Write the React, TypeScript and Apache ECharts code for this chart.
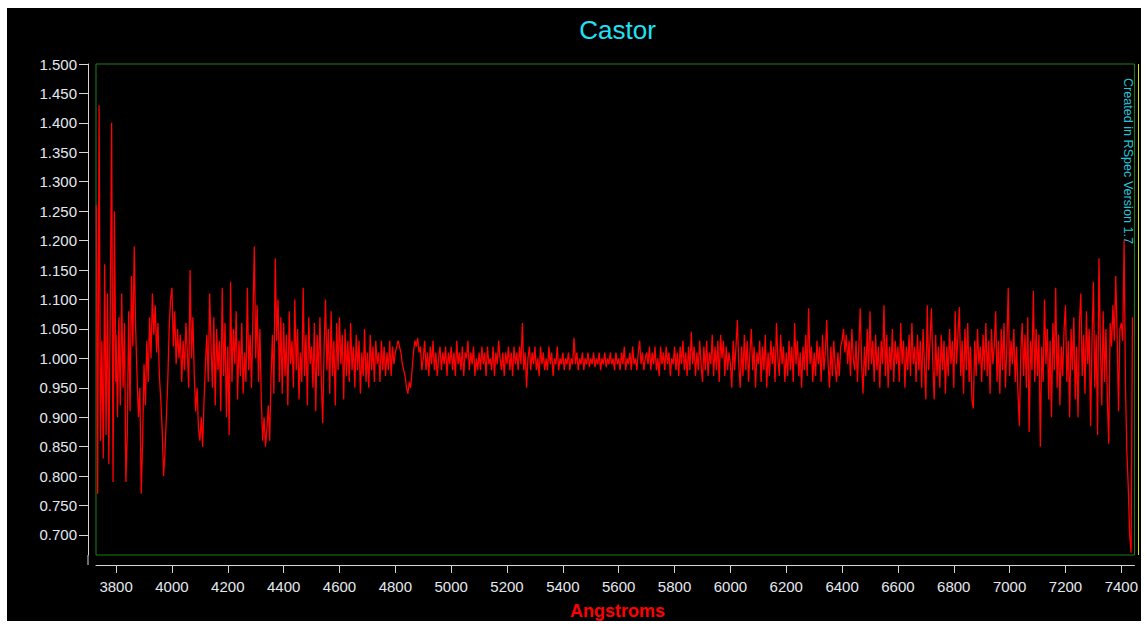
import React, { useEffect, useRef } from "react";
import * as echarts from "echarts";

const titleText = "Castor";
const xAxisName = "Angstroms";
const creditText = "Created in RSpec Version 1.7";

const xTicks = [3800, 4000, 4200, 4400, 4600, 4800, 5000, 5200, 5400, 5600, 5800, 6000, 6200, 6400, 6600, 6800, 7000, 7200, 7400];
const yTicks = [0.7, 0.75, 0.8, 0.85, 0.9, 0.95, 1.0, 1.05, 1.1, 1.15, 1.2, 1.25, 1.3, 1.35, 1.4, 1.45, 1.5];
const xMin = 3728;
const xMax = 7447;
const yMin = 0.666;
const yMax = 1.5;
const sampleStep = 5;

// flux, in blocks of 100 Å (first block starts at 3729 Å)
const fluxBlue: number[][] = [
  [1.26, 0.77, 1.43, 0.86, 1.03, 0.83, 1.16, 0.87, 1.11, 0.82, 1.08, 1.40, 0.79, 1.25, 0.96],
  [1.04, 0.90, 1.07, 0.92, 1.11, 0.95, 1.06, 0.79, 0.87, 1.08, 0.91, 1.14, 1.02, 1.19, 1.05, 0.97, 0.90, 0.95, 0.77, 0.86],
  [0.99, 0.92, 1.03, 0.96, 1.07, 1.00, 1.11, 1.04, 1.09, 1.01, 1.06, 0.97, 0.93, 0.88, 0.80, 0.84, 0.90, 0.96, 1.05, 1.10],
  [1.12, 1.02, 1.08, 0.99, 1.05, 1.00, 1.04, 0.96, 1.03, 0.98, 1.06, 1.01, 0.95, 1.15, 1.00, 1.07, 0.97, 0.91, 0.95, 0.88],
  [0.86, 0.90, 0.85, 0.93, 0.99, 1.04, 0.96, 1.11, 1.02, 0.95, 1.07, 0.92, 1.05, 0.98, 1.03, 0.91, 1.12, 0.97, 1.06, 0.90],
  [1.02, 0.87, 1.13, 0.96, 1.05, 0.99, 1.08, 0.93, 1.03, 0.97, 1.06, 0.94, 1.01, 0.96, 1.12, 0.98, 1.04, 0.95, 1.07, 1.19],
  [1.00, 1.09, 0.96, 1.05, 0.93, 0.86, 0.90, 0.85, 0.88, 0.92, 0.86, 0.97, 1.04, 0.94, 1.17, 1.03, 1.10, 0.96, 1.07, 0.94],
];

const fluxGreen: number[][] = [
  [1.06, 0.97, 1.04, 0.92, 1.08, 0.99, 1.03, 0.95, 1.10, 0.98, 1.05, 0.93, 1.01, 0.96, 1.12, 0.97, 1.04, 0.92, 1.07, 0.99],
  [1.02, 0.95, 1.06, 0.91, 1.04, 0.97, 1.07, 0.96, 0.89, 1.02, 1.10, 0.98, 1.05, 0.94, 1.08, 0.97, 1.03, 0.92, 1.06, 0.98],
  [1.07, 0.99, 1.04, 0.93, 1.05, 0.97, 1.03, 0.96, 1.06, 0.98, 1.02, 0.95, 1.04, 0.98, 1.03, 0.94, 1.01, 0.97, 1.05, 0.96],
  [1.01, 0.95, 1.04, 0.98, 1.02, 0.96, 1.03, 0.99, 1.01, 0.96, 1.03, 0.98, 1.02, 0.97, 1.01, 0.98, 1.03, 0.97, 1.02, 0.99],
  [1.01, 1.02, 1.03, 1.02, 1.01, 0.99, 0.98, 0.97, 0.95, 0.94, 0.96, 0.95, 0.98, 1.01, 1.03, 1.02, 1.035, 1.01, 1.02, 0.98],
  [1.00, 1.03, 0.98, 1.01, 0.97, 1.02, 0.99, 1.03, 0.98, 1.01, 0.97, 1.00, 1.02, 0.98, 1.01, 0.99, 1.02, 0.97, 1.01, 0.99],
  [1.02, 0.98, 1.01, 0.97, 1.03, 0.99, 1.01, 0.98, 1.02, 0.97, 1.01, 1.00, 1.03, 0.98, 1.01, 0.99, 1.02, 0.97, 1.00, 0.98],
  [1.01, 0.98, 1.02, 0.99, 1.01, 0.97, 1.02, 0.99, 1.00, 0.98, 1.02, 0.97, 1.01, 0.99, 1.03, 1.00, 0.98, 1.01, 0.97, 1.01],
  [0.99, 1.02, 0.98, 1.01, 0.97, 1.02, 0.99, 1.01, 0.98, 1.02, 0.99, 1.06, 0.98, 1.01, 0.95, 1.00, 1.02, 0.98, 1.01, 0.99],
  [1.02, 0.98, 1.00, 0.97, 1.02, 0.99, 1.01, 0.98, 1.00, 0.98, 1.02, 0.99, 1.01, 0.97, 1.00, 0.99, 1.02, 0.98, 1.00, 0.99],
  [1.01, 0.98, 1.00, 0.99, 1.01, 0.98, 1.00, 0.99, 1.035, 0.99, 1.01, 0.98, 1.00, 0.99, 1.01, 0.98, 1.00, 0.99, 1.01, 0.985],
  [1.00, 0.99, 1.01, 0.985, 1.00, 0.99, 1.01, 0.98, 1.00, 0.99, 1.01, 0.985, 1.00, 0.99, 1.01, 0.99, 1.00, 0.98, 1.01, 0.99],
  [1.00, 0.98, 1.01, 0.99, 1.02, 0.98, 1.00, 0.99, 1.01, 0.98, 1.02, 0.99, 1.00, 0.98, 1.01, 1.03, 0.99, 1.01, 0.98, 1.00],
  [1.01, 0.99, 1.02, 0.98, 1.01, 0.99, 1.02, 0.98, 1.00, 0.97, 1.02, 0.99, 1.01, 0.98, 1.02, 0.99, 1.01, 0.97, 1.00, 0.99],
  [1.02, 0.98, 1.01, 0.97, 1.02, 0.99, 1.03, 0.98, 1.01, 0.97, 1.02, 0.98, 1.045, 0.99, 1.02, 0.97, 1.01, 0.98, 1.03, 0.99],
];

const fluxRed: number[][] = [
  [0.96, 1.02, 0.98, 1.03, 0.97, 1.01, 0.99, 1.04, 0.97, 1.02, 0.98, 1.03, 0.96, 1.04, 1.00, 1.03, 0.97, 1.02, 0.98, 1.01],
  [0.99, 0.95, 1.03, 0.98, 1.02, 1.065, 0.99, 0.95, 1.02, 0.97, 1.04, 0.98, 1.03, 0.96, 1.01, 1.05, 0.98, 1.02, 0.95, 1.01],
  [0.99, 1.03, 0.96, 1.02, 0.98, 1.04, 0.95, 1.01, 0.97, 1.03, 0.99, 1.02, 0.96, 1.06, 1.00, 0.97, 1.04, 0.99, 1.02, 0.96],
  [1.01, 0.97, 1.03, 0.98, 1.02, 0.96, 1.06, 0.99, 1.03, 0.97, 1.01, 0.95, 1.02, 0.98, 1.04, 0.97, 1.085, 0.99, 1.02, 0.96],
  [1.01, 0.97, 1.03, 0.99, 1.02, 0.96, 1.04, 0.98, 1.01, 1.065, 0.99, 0.95, 1.02, 0.97, 1.03, 0.99, 0.96, 1.01, 0.97, 1.02],
  [1.03, 1.05, 1.01, 1.04, 0.99, 1.03, 0.97, 1.05, 1.00, 0.98, 1.03, 0.96, 1.02, 1.085, 0.99, 0.94, 1.02, 0.97, 1.05, 0.98],
  [1.08, 0.99, 1.03, 0.96, 1.04, 0.98, 1.02, 0.95, 1.03, 0.99, 1.09, 0.97, 1.04, 0.95, 1.02, 0.98, 1.05, 0.96, 1.03, 0.99],
  [1.02, 0.96, 1.06, 0.99, 1.03, 0.95, 1.02, 0.98, 1.04, 0.97, 1.06, 0.99, 1.02, 0.96, 1.04, 0.98, 1.03, 0.95, 1.05, 0.99],
  [0.93, 1.09, 0.98, 1.03, 1.085, 0.99, 0.93, 1.04, 0.97, 1.02, 0.95, 1.04, 0.98, 1.03, 0.94, 1.02, 0.97, 1.05, 0.99, 1.03],
  [0.95, 1.08, 0.99, 1.04, 1.087, 0.97, 1.03, 0.94, 1.05, 0.98, 1.06, 0.96, 1.02, 0.93, 0.915, 1.03, 0.97, 1.05, 0.99, 1.02],
  [0.96, 1.04, 0.98, 1.06, 0.97, 1.03, 0.94, 1.05, 0.99, 1.02, 1.08, 0.96, 1.03, 0.94, 1.05, 0.98, 1.06, 0.95, 1.02, 1.12],
  [0.97, 1.03, 0.99, 1.05, 0.96, 1.02, 0.94, 0.885, 1.01, 1.06, 0.97, 1.04, 0.95, 1.07, 0.875, 1.03, 0.98, 1.115, 0.96, 1.05],
  [0.97, 1.04, 0.85, 1.02, 0.96, 1.10, 0.99, 1.05, 0.93, 1.03, 0.90, 1.06, 0.98, 1.12, 0.95, 1.04, 0.92, 1.02, 0.97, 1.05],
  [1.09, 0.96, 1.03, 0.90, 1.05, 0.98, 1.07, 0.93, 1.02, 0.90, 1.06, 1.11, 0.97, 1.04, 0.94, 1.08, 0.99, 1.05, 0.885, 1.03],
  [1.13, 0.95, 1.04, 0.87, 1.17, 1.02, 0.92, 1.08, 0.96, 1.05, 0.93, 0.855, 1.06, 1.02, 1.09, 1.03, 1.14, 1.04, 0.91, 1.05],
  [1.06, 1.03, 1.20, 0.95, 0.84, 0.78, 0.70, 0.67, 1.07],
];

function buildSeries(): [number, number][] {
  const blocks = [...fluxBlue, ...fluxGreen, ...fluxRed];
  const out: [number, number][] = [];
  blocks.forEach((blk, i) => {
    const start = i === 0 ? 3729 : 3700 + 100 * i;
    blk.forEach((v, j) => out.push([start + j * sampleStep, v]));
  });
  return out;
}

const FONT = '"Liberation Sans", Arial, sans-serif';
const LABEL_COLOR = "#e4e8ee";
const AXIS_COLOR = "#d6d6d6";

export default function App() {
  const ref = useRef<HTMLDivElement>(null);
  useEffect(() => {
    if (!ref.current) return;
    const chart = echarts.init(ref.current, null, { renderer: "svg" });
    const gridLeft = 89;
    const gridTop = 56;
    const gridW = 1043;
    const gridH = 491;
    chart.setOption({
      animation: false,
      backgroundColor: "#000000",
      grid: {
        left: gridLeft,
        top: gridTop,
        width: gridW,
        height: gridH,
        show: true,
        borderColor: "#1a801a",
        borderWidth: 1,
        backgroundColor: "transparent",
      },
      xAxis: {
        type: "value",
        min: xMin,
        max: xMax,
        offset: 10,
        axisLine: { show: true, lineStyle: { color: AXIS_COLOR, width: 1 } },
        axisTick: { show: true, length: 8, customValues: xTicks, lineStyle: { color: AXIS_COLOR } },
        axisLabel: {
          customValues: xTicks,
          color: LABEL_COLOR,
          fontSize: 15,
          fontFamily: FONT,
          margin: 14,
          formatter: (v: number) => String(v),
        },
        splitLine: { show: false },
      },
      yAxis: {
        type: "value",
        min: yMin,
        max: yMax,
        offset: 8,
        axisLine: { show: true, lineStyle: { color: AXIS_COLOR, width: 1 } },
        axisTick: { show: true, length: 9, customValues: yTicks, lineStyle: { color: AXIS_COLOR } },
        axisLabel: {
          customValues: yTicks,
          color: LABEL_COLOR,
          fontSize: 15,
          fontFamily: FONT,
          margin: 11,
          formatter: (v: number) => v.toFixed(3),
        },
        splitLine: { show: false },
      },
      series: [
        {
          type: "line",
          data: buildSeries(),
          symbol: "none",
          showSymbol: false,
          silent: true,
          clip: true,
          lineStyle: { color: "#ff0000", width: 1.3 },
        },
      ],
      graphic: [
        {
          type: "text",
          x: gridLeft + gridW / 2,
          y: 22,
          style: {
            text: titleText,
            fill: "#1ee2f8",
            font: `26px ${FONT}`,
            textAlign: "center",
            textVerticalAlign: "middle",
            align: "center",
            verticalAlign: "middle",
          },
        },
        {
          type: "text",
          x: gridLeft + gridW / 2,
          y: 603,
          style: {
            text: xAxisName,
            fill: "#ff0000",
            font: `bold 18px ${FONT}`,
            textAlign: "center",
            textVerticalAlign: "middle",
            align: "center",
            verticalAlign: "middle",
          },
        },
        {
          type: "text",
          x: 1121,
          y: 70,
          rotation: -Math.PI / 2,
          style: {
            text: creditText,
            fill: "#22c4d6",
            font: `12.6px ${FONT}`,
            textAlign: "left",
            textVerticalAlign: "middle",
            align: "left",
            verticalAlign: "middle",
          },
        },
        {
          type: "line",
          shape: { x1: gridLeft + gridW - 0.5, y1: gridTop, x2: gridLeft + gridW - 0.5, y2: gridTop + gridH },
          style: { stroke: "#e0e000", lineWidth: 1 },
          z: 10,
        },
        {
          type: "line",
          shape: { x1: gridLeft - 8, y1: gridTop + gridH, x2: gridLeft - 8, y2: gridTop + gridH + 10 },
          style: { stroke: AXIS_COLOR, lineWidth: 1 },
        },
      ],
    });
    return () => chart.dispose();
  }, []);
  return (
    <div
      ref={ref}
      style={{ position: "absolute", left: 7, top: 8, width: 1134, height: 613, background: "#000" }}
    />
  );
}
